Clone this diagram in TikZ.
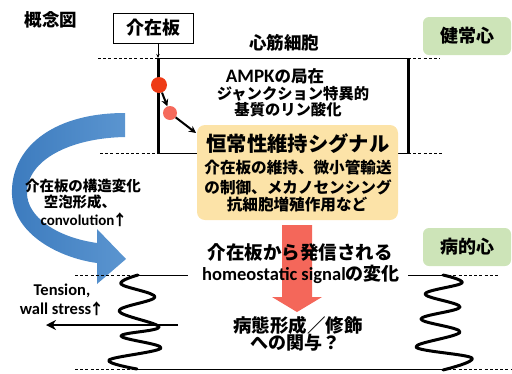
\documentclass[tikz,border=0pt]{standalone}
\usepackage{fontspec}
\setmainfont{Carlito}
\newfontfamily\jpf{Noto Sans CJK JP}
\usetikzlibrary{arrows.meta}
\definecolor{stagegreen}{HTML}{CDE4B8}
\definecolor{sigyellow}{HTML}{FCE3A8}
\definecolor{dotred}{HTML}{EE3B16}
\definecolor{dotpink}{HTML}{F56A5C}
\definecolor{redarrow}{HTML}{F4675A}
\definecolor{ribbon}{HTML}{3C7BBE}
\definecolor{ribbonlight}{HTML}{5B95D0}
% Japanese (bold gothic) and Latin (bold) text at a given size
\newcommand\jsz[1]{\bfseries\jpf\fontsize{#1}{#1}\selectfont}
\newcommand\lsz[1]{\bfseries\fontsize{#1}{#1}\selectfont}
\begin{document}
\begin{tikzpicture}[x=1pt,y=-1pt,
  lbl/.style={inner sep=0pt},
  stage/.style={fill=stagegreen, rounded corners=6pt, inner sep=0pt,
    minimum width=88pt, minimum height=38pt, font=\jsz{18}},
  thinline/.style={line width=0.9pt},
  dashline/.style={line width=0.9pt, dash pattern=on 3pt off 2.2pt},
  cellwall/.style={line width=3pt},
  fiber/.style={line width=3pt, line cap=round, line join=round},
  dotarrow/.style={line width=2pt, -{Stealth[length=7pt,width=7pt]}},
]
\useasboundingbox (0,0) rectangle (512,373);

% ---------- coordinates of the cardiomyocyte outline ----------
\coordinate (cTL) at (158,58);
\coordinate (cTR) at (408,58);
\coordinate (cBL) at (158,153);
\coordinate (cBR) at (408,153);
\coordinate (dTL) at (98,58);
\coordinate (dTR) at (440,58);
\coordinate (dBL) at (100,153);
\coordinate (dBR) at (443,153);

% ---------- title and labels on top ----------
\node[lbl, font=\jsz{17.5}] (title) at (51,20) {概念図};
\node[draw, thinline, inner sep=0pt, minimum width=80pt, minimum height=30pt,
  font=\jsz{18}] (jbox) at (153,28) {介在板};
\node[lbl, font=\jsz{17.5}] (myo) at (284,43) {心筋細胞};
\node[stage] (healthy) at (467,36) {健常心};

% ---------- cell outline ----------
\draw[dashline] (dTL) -- (cTL);
\draw[dashline] (cTR) -- (dTR);
\draw[dashline] (dBL) -- (cBL);
\draw[dashline] (cBR) -- (dBR);
\draw[thinline] (cTL) -- (cTR);
\draw[thinline] (cBL) -- (cBR);
\draw[cellwall] (cTL) -- (cBL);
\draw[cellwall] (cTR) -- (cBR);
\draw[thinline, -{Stealth[length=4pt,width=3.5pt]}] (jbox.south -| cTL) -- (cTL);

% ---------- AMPK text ----------
\node[lbl, font=\lsz{19}] (ampk1) at (275,76) {AMPK{\jpf\fontsize{16.5}{16.5}\selectfont の局在}};
\node[lbl, font=\jsz{15.3}] (ampk2) at (293,94) {ジャンクション特異的};
\node[lbl, font=\jsz{15.3}] (ampk3) at (288,110) {基質のリン酸化};

% ---------- homeostatic signal box ----------
\node[fill=sigyellow, rounded corners=8pt, minimum width=201pt,
  minimum height=95pt, inner sep=0pt] (sig) at (297.5,172.5) {};
\node[lbl, font=\jsz{20.3}] (sigt) at (298,144) {恒常性維持シグナル};
\node[lbl, font=\jsz{15.6}] (sig1) at (298,168) {介在板の維持、微小管輸送};
\node[lbl, font=\jsz{15.6}] (sig2) at (298,187) {の制御、メカノセンシング};
\node[lbl, font=\jsz{15.6}] (sig3) at (297,205) {抗細胞増殖作用など};

% ---------- AMPK dots ----------
\node[circle, fill=dotred, minimum size=16pt, inner sep=0pt] (d1) at (159,85) {};
\node[circle, fill=dotpink, minimum size=14pt, inner sep=0pt] (d2) at (170,113) {};
\coordinate (sigin) at (196,133);
\draw[dotarrow] (d1) -- (d2);
\draw[dotarrow] (d2) -- (sigin);

% ---------- blue ribbon arrow ----------
\shade[left color=ribbon, right color=ribbonlight] (125,113) .. controls (50,113) and (10,150) .. (12,195)
  .. controls (14,235) and (60,258) .. (97,263) -- (97,284) -- (126,259)
  -- (97,229) -- (97,243) .. controls (55,237) and (27,216) .. (27,193)
  .. controls (27,160) and (70,138) .. (125,137) -- cycle;
\node[lbl, font=\jsz{14.5}] (rib1) at (83,186) {介在板の構造変化};
\node[lbl, font=\jsz{14.5}] (rib2) at (80,202) {空泡形成、};
\node[lbl, font=\lsz{15}] (rib3) at (84,220) {convolution{\jpf\kern-2pt ↑}};

% ---------- stage two ----------
\node[stage] (disease) at (467,247) {病的心};
\fill[redarrow] (282,225) -- (312,225) -- (312,297) -- (322,297) -- (297,312)
  -- (272,297) -- (282,297) -- cycle;
\node[lbl, font=\jsz{18.5}] (emit) at (300,252) {介在板から発信される};
\node[lbl, font=\lsz{18.5}] (homeo) at (301,274) {homeostatic signal{\jpf\fontsize{18}{18}\selectfont の変化}};
\node[lbl, font=\jsz{18.5}] (patho1) at (298,325) {病態形成／修飾};
\node[lbl, font=\jsz{18}] (patho2) at (295,343) {への関与？};

% ---------- tissue boundaries ----------
\coordinate (tL0) at (75,275);
\coordinate (tL1) at (137,275);
\coordinate (tL2) at (188,275);
\coordinate (tR1) at (408,275);
\coordinate (tR2) at (443,275);
\coordinate (tR3) at (500,275);
\coordinate (bL0) at (75,369);
\coordinate (bL1) at (136,369);
\coordinate (bR1) at (443,369);
\coordinate (bR2) at (512,369);
\draw[dashline] (tL0) -- (tL1);
\draw[thinline] (tL1) -- (tL2);
\draw[thinline] (tR1) -- (tR2);
\draw[dashline] (tR2) -- (tR3);
\draw[dashline] (bL0) -- (bL1);
\draw[thinline] (bL1) -- (bR1);
\draw[dashline] (bR1) -- (bR2);

% convoluted intercalated discs
\draw[fiber] plot[smooth, tension=0.6] coordinates {(138,275) (121,284) (155,297)
  (119,311) (159,327) (121,336) (161,348) (109,360) (137,369)};
\draw[fiber] plot[smooth, tension=0.6] coordinates {(443,275) (462,283) (425,294)
  (460,307) (421,319) (460,332) (416,347) (472,358) (443,370)};

% wall stress
\coordinate (pullR) at (178,325);
\coordinate (pullL) at (46,325);
\draw[line width=2pt, -{Stealth[length=10pt,width=10pt]}] (pullR) -- (pullL);
\node[lbl, font=\lsz{16.5}] (ten1) at (62,290.5) {Tension,};
\node[lbl, font=\lsz{16.5}] (ten2) at (62,308.5) {wall stress{\jpf\fontsize{15}{15}\selectfont\kern-2pt ↑}};
\end{tikzpicture}
\end{document}
